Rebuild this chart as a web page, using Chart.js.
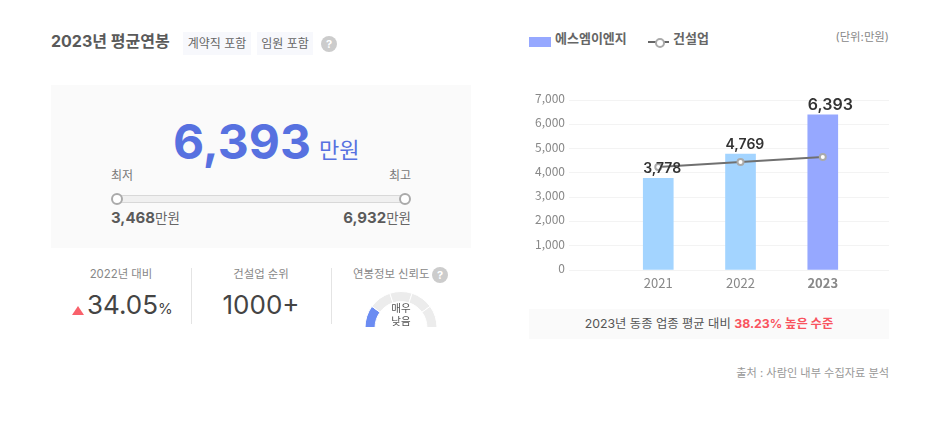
<!DOCTYPE html>
<html lang="ko">
<head>
  <meta charset="UTF-8" />
  <title>2023년 평균연봉</title>
  <script src="https://cdn.jsdelivr.net/npm/chart.js"></script>
  <style>
    html, body { margin: 0; padding: 0; background: #fff; }
    body { width: 947px; height: 427px; position: relative; overflow: hidden; font-family: Inter, "Noto Sans CJK KR", sans-serif; color: #444; }
    .abs { position: absolute; white-space: nowrap; line-height: 1; }
    .tag { position: absolute; top: 32px; height: 23px; line-height: 23px; background: #f7f8fc; font-size: 12px; color: #666; text-align: center; }
    .help { position: absolute; width: 16px; height: 16px; border-radius: 50%; background: #ccc; color: #fff; font-size: 11px; font-weight: 700; line-height: 16px; text-align: center; }
    .panel { position: absolute; left: 51px; top: 85px; width: 420px; height: 163px; background: #fafafa; }
    .track { position: absolute; left: 117px; top: 195px; width: 288px; height: 8px; background: #f0f0f0; border-top: 1px solid #d8d8d8; border-bottom: 1px solid #d8d8d8; box-sizing: border-box; }
    .knob { position: absolute; top: 193px; width: 12px; height: 12px; border: 2px solid #aaa; border-radius: 50%; background: #fff; box-sizing: border-box; }
    .divider { position: absolute; top: 268px; width: 1px; height: 56px; background: #e4e4e4; }
    .center { transform: translateX(-50%); }
    .right { transform: translateX(-100%); }
    #barWrap { position: absolute; left: 529px; top: 85px; width: 366px; height: 210px; }
    #gaugeWrap { position: absolute; left: 364px; top: 291px; width: 74px; height: 36px; overflow: hidden; }
    #gaugeInner { position: relative; width: 74px; height: 37px; }
    .note { position: absolute; left: 529px; top: 309px; width: 360px; height: 30px; line-height: 30px; background: #fafafa; text-align: center; font-size: 12.3px; color: #555; }
    .note b { color: #f9545f; font-weight: 700; }
  </style>
</head>
<body>
  <div class="abs" style="left:51px;top:33px;font-size:16px;font-weight:700;color:#5a5a5a;">2023년 평균연봉</div>
  <div class="tag" style="left:183px;width:68px;">계약직 포함</div>
  <div class="tag" style="left:257px;width:56px;">임원 포함</div>
  <div class="help" style="left:321px;top:36px;">?</div>

  <div class="panel"></div>
  <div class="abs center" style="left:242px;top:118px;font-size:48px;font-weight:700;color:#5771e0;">6,393</div>
  <div class="abs" style="left:319px;top:139px;font-size:22px;color:#5771e0;">만원</div>
  <div class="abs" style="left:111px;top:170px;font-size:12px;color:#777;">최저</div>
  <div class="abs right" style="left:411px;top:170px;font-size:12px;color:#777;">최고</div>
  <div class="track"></div>
  <div class="knob" style="left:111px;"></div>
  <div class="knob" style="left:399px;"></div>
  <div class="abs" style="left:111px;top:210px;font-size:15px;font-weight:700;color:#5a5a5a;">3,468<span style="font-size:13.5px;font-weight:400;color:#666;">만원</span></div>
  <div class="abs right" style="left:411px;top:210px;font-size:15px;font-weight:700;color:#5a5a5a;">6,932<span style="font-size:13.5px;font-weight:400;color:#666;">만원</span></div>

  <div class="abs center" style="left:121px;top:269px;font-size:11.4px;color:#888;">2022년 대비</div>
  <div class="abs" style="left:72px;top:306px;width:0;height:0;border-left:6px solid transparent;border-right:6px solid transparent;border-bottom:9px solid #f9616b;"></div>
  <div class="abs" style="left:87px;top:292px;font-size:26px;color:#444;">34.05<span style="font-size:15px;">%</span></div>
  <div class="divider" style="left:191px;"></div>
  <div class="abs center" style="left:261px;top:269px;font-size:11.4px;color:#888;">건설업 순위</div>
  <div class="abs center" style="left:261px;top:292px;font-size:26px;color:#444;">1000+</div>
  <div class="divider" style="left:331px;"></div>
  <div class="abs" style="left:353px;top:269px;font-size:11.4px;color:#888;">연봉정보 신뢰도</div>
  <div class="help" style="left:432px;top:267px;">?</div>
  <div id="gaugeWrap"><div id="gaugeInner"><canvas id="gaugeChart"></canvas></div></div>
  <div class="abs center" style="left:401px;top:303px;font-size:10.5px;line-height:12.5px;color:#555;text-align:center;">매우<br>낮음</div>

  <div class="abs" style="left:529px;top:37px;width:22px;height:10px;background:#96a8ff;"></div>
  <div class="abs" style="left:555px;top:32px;font-size:13px;font-weight:700;color:#666;">에스엠이엔지</div>
  <div class="abs" style="left:648px;top:41px;width:21px;height:2px;background:#666;"></div>
  <div class="abs" style="left:655px;top:38px;width:6px;height:6px;border:2px solid #aaa;border-radius:50%;background:#fff;box-sizing:content-box;"></div>
  <div class="abs" style="left:673px;top:32px;font-size:13px;font-weight:700;color:#666;">건설업</div>
  <div class="abs right" style="left:889px;top:32px;font-size:11.4px;color:#888;">(단위:만원)</div>

  <div id="barWrap"><canvas id="barChart"></canvas></div>
  <div class="note">2023년 동종 업종 평균 대비 <b>38.23% 높은 수준</b></div>
  <div class="abs right" style="left:889px;top:368px;font-size:11.2px;color:#999;">출처 : 사람인 내부 수집자료 분석</div>

  <script>
    const years = [2021, 2022, 2023];
    const companyValues = [3778, 4769, 6393];
    const industryValues = [4240, 4447, 4653];
    const barColors = ['#a3d4ff', '#a3d4ff', '#96a8ff'];
    const yTicks = [0, 1000, 2000, 3000, 4000, 5000, 6000, 7000];
    const gaugeSegments = [1, 1, 1, 1, 1];
    const gaugeColors = ['#6b8cf2', '#ececec', '#ececec', '#ececec', '#ececec'];

    const fontStack = 'Inter, "Noto Sans CJK KR", sans-serif';
    const tickFont = '"Noto Sans CJK KR", sans-serif';

    // values start at the bar's left edge, the last year is a bit bigger
    const barValueLabels = {
      id: 'barValueLabels',
      afterDatasetsDraw(chart) {
        const ctx = chart.ctx;
        const bars = chart.getDatasetMeta(1).data;
        ctx.save();
        ctx.fillStyle = '#333';
        ctx.textAlign = 'left';
        ctx.textBaseline = 'bottom';
        bars.forEach((bar, i) => {
          ctx.font = (i === bars.length - 1 ? '600 16px ' : '600 14px ') + fontStack;
          ctx.fillText(companyValues[i].toLocaleString('en-US'), bar.x - bar.width / 2, bar.y - 2);
        });
        ctx.restore();
      }
    };

    new Chart(document.getElementById('barChart'), {
      data: {
        datasets: [
          {
            type: 'line',
            label: '건설업',
            data: years.map((y, i) => ({ x: y, y: industryValues[i] })),
            borderColor: '#707070',
            borderWidth: 2,
            pointRadius: 3,
            pointBackgroundColor: '#fff',
            pointBorderColor: '#aaa',
            pointBorderWidth: 2,
            tension: 0,
            order: 1
          },
          {
            type: 'bar',
            label: '에스엠이엔지',
            data: years.map((y, i) => ({ x: y, y: companyValues[i] })),
            backgroundColor: barColors,
            barThickness: 30,
            order: 2
          }
        ]
      },
      options: {
        responsive: true,
        maintainAspectRatio: false,
        animation: false,
        layout: { padding: { top: 15, right: 0, left: 0, bottom: 0 } },
        plugins: { legend: { display: false }, tooltip: { enabled: false } },
        scales: {
          x: {
            type: 'linear',
            offset: false,
            min: 2019.915,
            max: 2023.805,
            grid: { display: false, drawTicks: false },
            border: { display: false },
            afterBuildTicks(scale) { scale.ticks = years.map(v => ({ value: v })); },
            afterFit(scale) { scale.height = 25; },
            ticks: {
              autoSkip: false,
              maxRotation: 0,
              padding: 5,
              color: '#888',
              font: ctx => ({ family: tickFont, size: 13, weight: ctx.tick && ctx.tick.value === 2023 ? '700' : '400' }),
              callback: v => String(v)
            }
          },
          y: {
            min: 0,
            max: 7000,
            grid: { color: '#f3f3f3', drawTicks: false },
            border: { display: false },
            afterBuildTicks(scale) { scale.ticks = yTicks.map(v => ({ value: v })); },
            afterFit(scale) { scale.width = 40; },
            ticks: {
              padding: 4,
              labelOffset: -1.5,
              color: '#888',
              font: { family: tickFont, size: 12 },
              callback: v => v.toLocaleString('en-US')
            }
          }
        }
      },
      plugins: [barValueLabels]
    });

    new Chart(document.getElementById('gaugeChart'), {
      type: 'doughnut',
      data: {
        datasets: [{
          data: gaugeSegments,
          backgroundColor: gaugeColors,
          borderColor: '#fff',
          borderWidth: 1
        }]
      },
      options: {
        responsive: true,
        maintainAspectRatio: false,
        animation: false,
        rotation: -90,
        circumference: 180,
        cutout: '72%',
        layout: { padding: 0 },
        plugins: { legend: { display: false }, tooltip: { enabled: false } }
      }
    });
  </script>
</body>
</html>
